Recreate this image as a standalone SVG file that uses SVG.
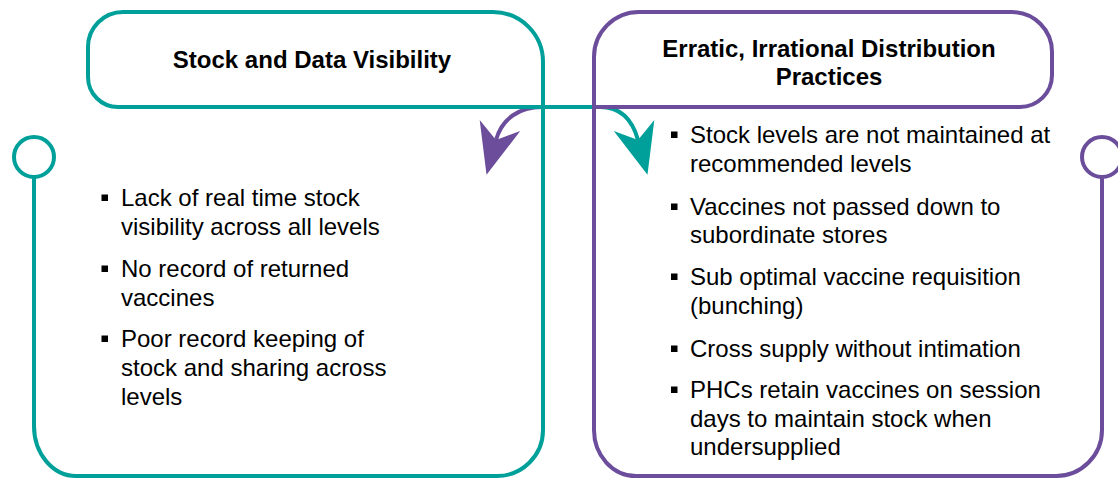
<svg xmlns="http://www.w3.org/2000/svg" width="1118" height="478" viewBox="0 0 1118 478">
  <style>
    .teal { fill: none; stroke: #00A09A; stroke-width: 4; stroke-linejoin: round; }
    .purple { fill: none; stroke: #6B4D9B; stroke-width: 4; stroke-linejoin: round; }
    .title { font-family: "Liberation Sans", Arial, sans-serif; font-size: 24px; font-weight: bold; fill: #000; text-anchor: middle; }
    .item { font-family: "Liberation Sans", Arial, sans-serif; font-size: 24px; fill: #000; }
    .dot { fill: #000; }
  </style>
  <defs>
    <marker id="headTeal" markerUnits="userSpaceOnUse" markerWidth="60" markerHeight="50" refX="15" refY="25" orient="auto" overflow="visible">
      <path d="M0,4 L51,25 L0,46 L15,25 Z" fill="#00A09A"/>
    </marker>
    <marker id="headPurple" markerUnits="userSpaceOnUse" markerWidth="60" markerHeight="50" refX="15" refY="25" orient="auto" overflow="visible">
      <path d="M0,4 L51,25 L0,46 L15,25 Z" fill="#6B4D9B"/>
    </marker>
  </defs>

  <rect width="1118" height="478" fill="#fff"/>

  <g id="connectors">
    <path class="purple" d="M594,107 L542,107 C520,107 502,118 496,140" marker-end="url(#headPurple)"/>
    <path class="teal" d="M543,107 L600,107 C620,107 632,118 638,140" marker-end="url(#headTeal)"/>
  </g>

  <g id="node-stock-visibility-title">
    <path class="teal" d="M118,107 L543,107 L543,62 A50,50 0 0 0 493,12 L123,12 A35,35 0 0 0 88,47 L88,77 A30,30 0 0 0 118,107 Z"/>
    <text class="title" x="312" y="68">Stock and Data Visibility</text>
  </g>

  <g id="node-stock-visibility-details">
    <circle class="teal" cx="34" cy="157" r="20" fill="#fff"/>
    <path class="teal" d="M34,177 L34,426 A42,50 0 0 0 76,476 L497,476 A46,46 0 0 0 543,430 L543,62"/>
    <rect class="dot" x="101.5" y="194.5" width="6.5" height="6.5"/>
    <text class="item" x="121" y="206">Lack of real time stock</text>
    <text class="item" x="121" y="235">visibility across all levels</text>
    <rect class="dot" x="101.5" y="265.5" width="6.5" height="6.5"/>
    <text class="item" x="121" y="277">No record of returned</text>
    <text class="item" x="121" y="306">vaccines</text>
    <rect class="dot" x="101.5" y="335.5" width="6.5" height="6.5"/>
    <text class="item" x="121" y="347">Poor record keeping of</text>
    <text class="item" x="121" y="376">stock and sharing across</text>
    <text class="item" x="121" y="405">levels</text>
  </g>

  <g id="node-distribution-title">
    <path class="purple" d="M1020,107 A32,32 0 0 0 1052,75 L1052,52 A40,40 0 0 0 1012,12 L639,12 A45,45 0 0 0 594,57 L594,107 Z"/>
    <text class="title" x="829" y="57">Erratic, Irrational Distribution</text>
    <text class="title" x="829" y="85">Practices</text>
  </g>

  <g id="node-distribution-details">
    <circle class="purple" cx="1102" cy="157" r="20" fill="#fff"/>
    <path class="purple" d="M1102,177 L1102,430 A46,46 0 0 1 1056,476 L636,476 A42,46 0 0 1 594,430 L594,57"/>
    <rect class="dot" x="671" y="131.5" width="6.5" height="6.5"/>
    <text class="item" x="690" y="143">Stock levels are not maintained at</text>
    <text class="item" x="690" y="172">recommended levels</text>
    <rect class="dot" x="671" y="203.5" width="6.5" height="6.5"/>
    <text class="item" x="690" y="215">Vaccines not passed down to</text>
    <text class="item" x="690" y="243">subordinate stores</text>
    <rect class="dot" x="671" y="273.5" width="6.5" height="6.5"/>
    <text class="item" x="690" y="285">Sub optimal vaccine requisition</text>
    <text class="item" x="690" y="314">(bunching)</text>
    <rect class="dot" x="671" y="345.5" width="6.5" height="6.5"/>
    <text class="item" x="690" y="357">Cross supply without intimation</text>
    <rect class="dot" x="671" y="386.5" width="6.5" height="6.5"/>
    <text class="item" x="690" y="398">PHCs retain vaccines on session</text>
    <text class="item" x="690" y="427">days to maintain stock when</text>
    <text class="item" x="690" y="455">undersupplied</text>
  </g>
</svg>
